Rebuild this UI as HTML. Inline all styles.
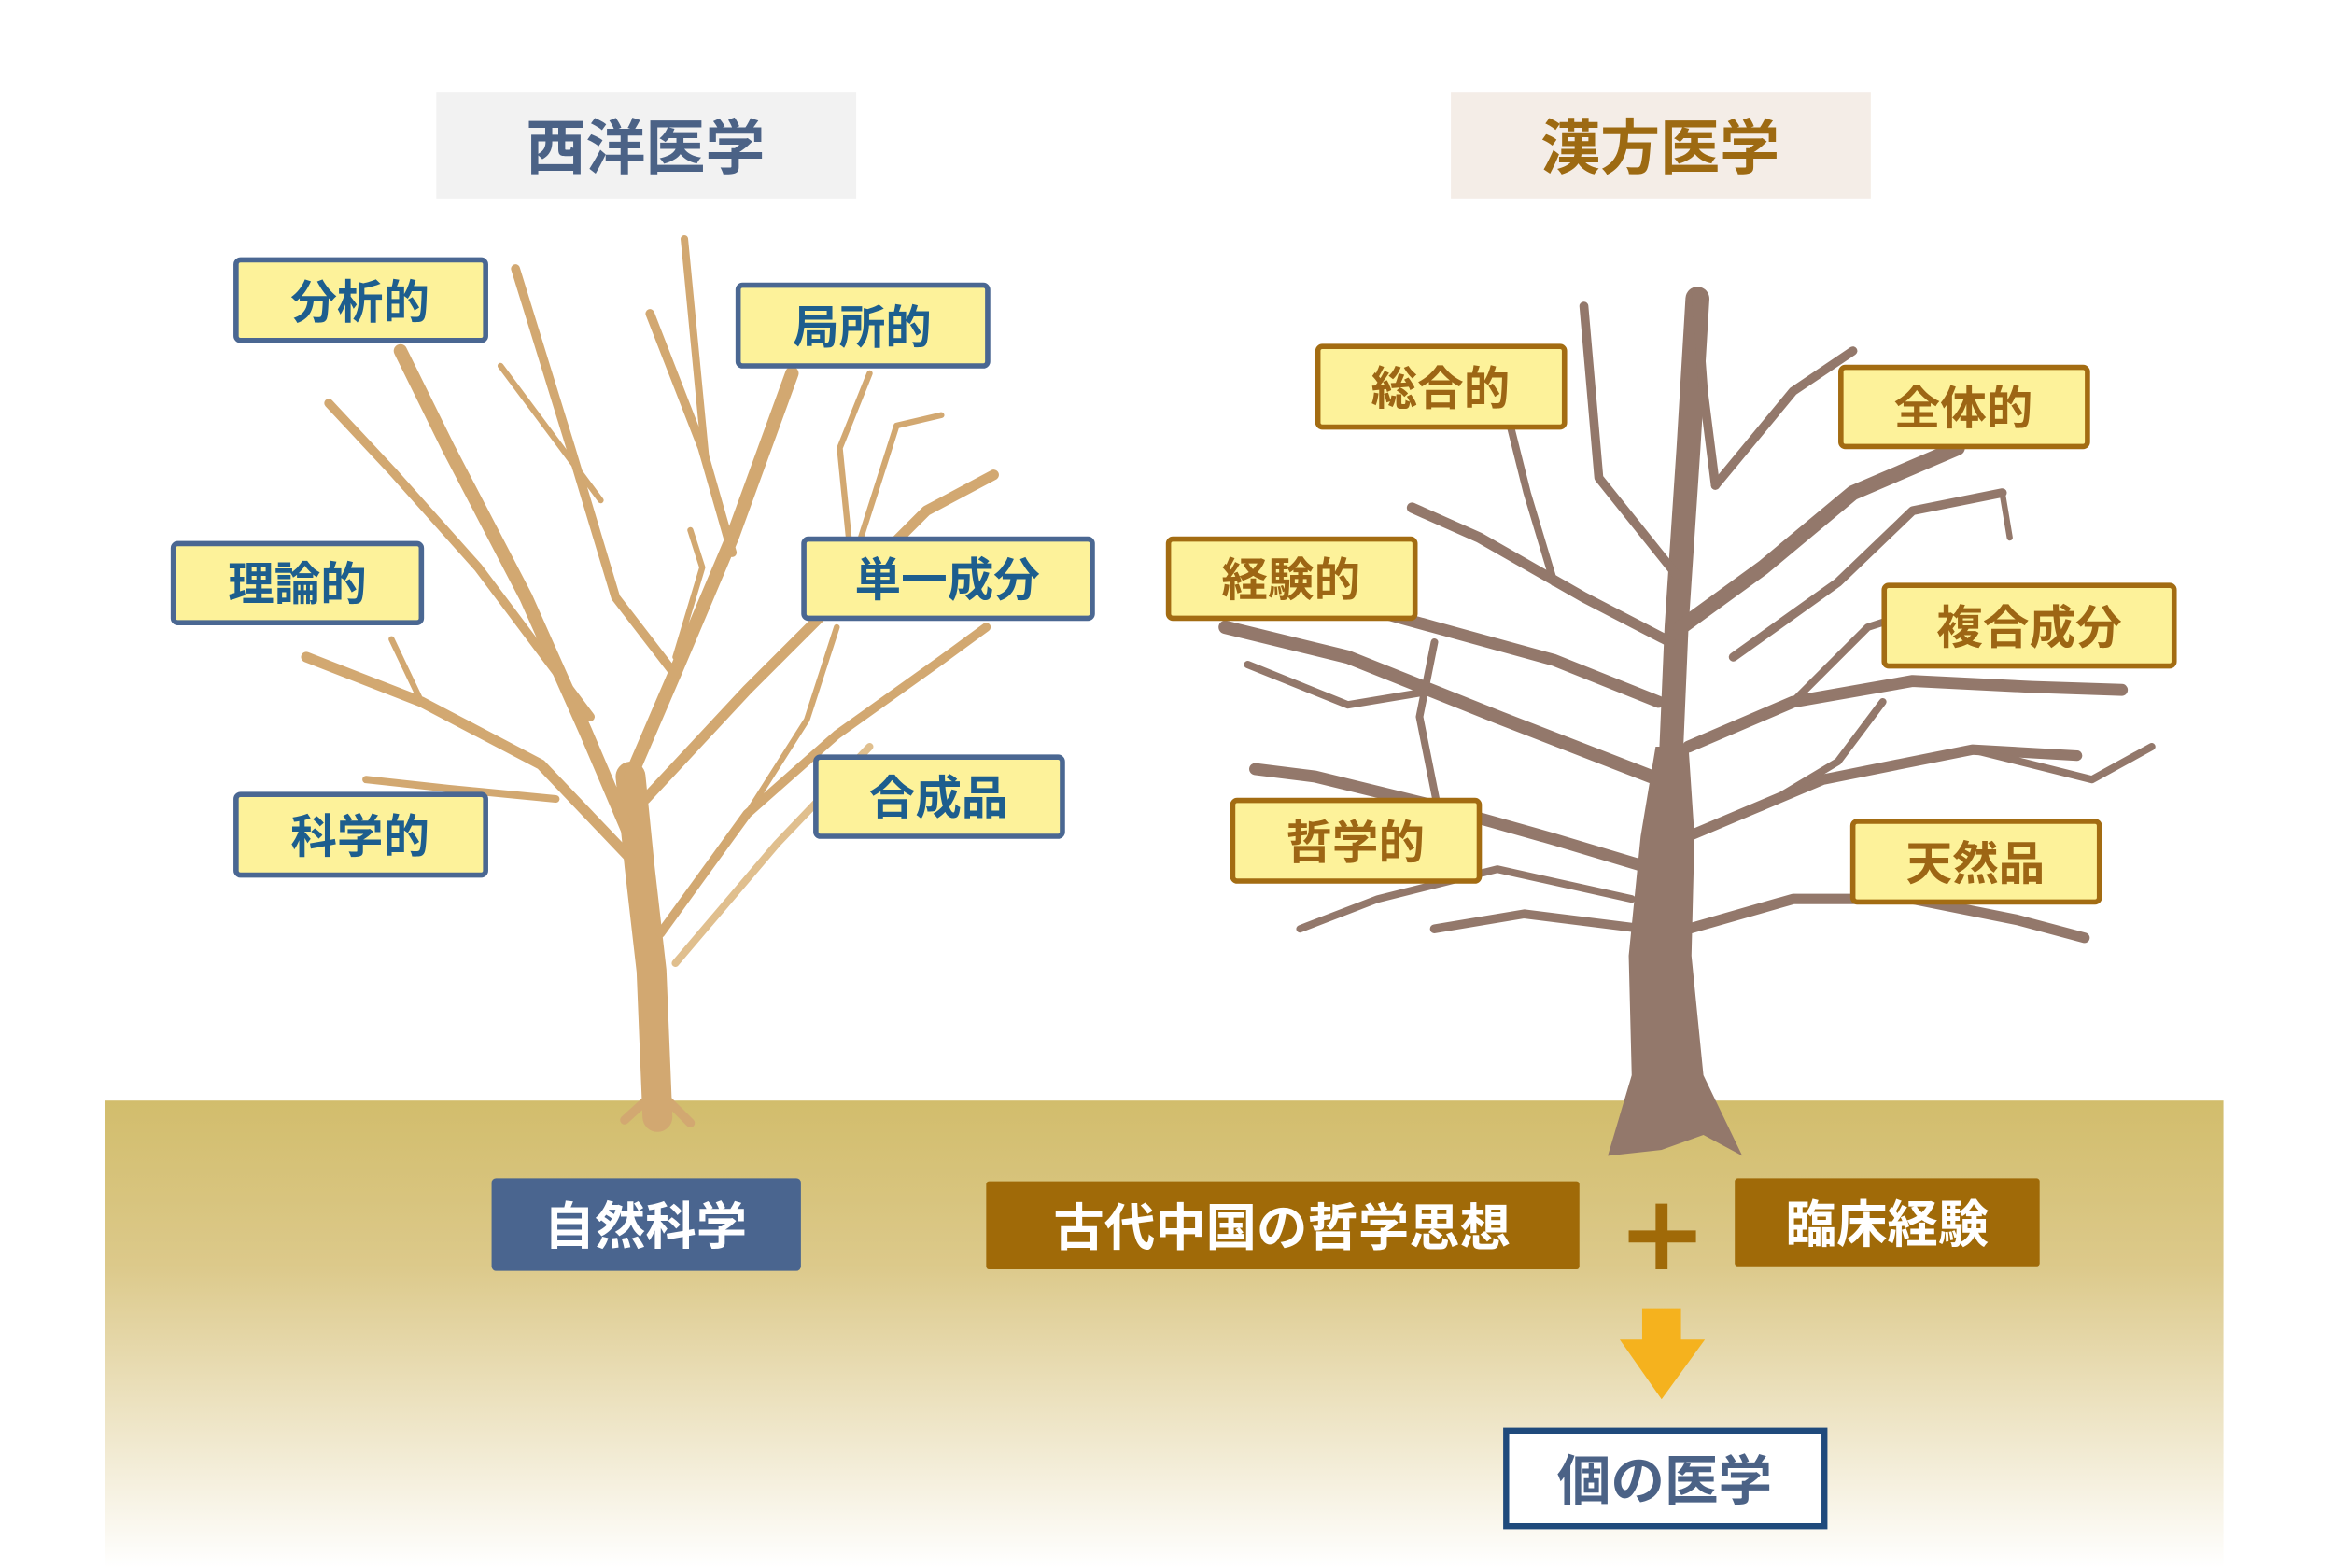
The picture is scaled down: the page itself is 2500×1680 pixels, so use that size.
<!DOCTYPE html>
<html><head><meta charset="utf-8"><style>
html,body{margin:0;padding:0;background:#fff;}
svg{display:block;}
text{font-family:"Liberation Sans","Noto Sans CJK JP",sans-serif;font-weight:bold;}
</style></head><body>
<svg width="2500" height="1680" viewBox="0 0 1562 1050" preserveAspectRatio="none" xmlns="http://www.w3.org/2000/svg">
<defs>
<linearGradient id="g" x1="0" y1="0" x2="0" y2="1">
<stop offset="0" stop-color="#d2bd6c"/>
<stop offset="0.35" stop-color="#dcc98a"/>
<stop offset="1" stop-color="#ffffff"/>
</linearGradient>
</defs>
<rect x="70" y="737" width="1418" height="313" fill="url(#g)"/>

<rect x="292" y="62" width="281" height="71" fill="#f2f2f2"/>
<text x="432" y="113" font-size="40" fill="#4b6286" text-anchor="middle">西洋医学</text>
<rect x="971" y="62" width="281" height="71" fill="#f4ede7"/>
<text x="1111" y="113" font-size="40" fill="#9d6a12" text-anchor="middle">漢方医学</text>

<g fill="none" stroke="#d2a871" stroke-linecap="round" stroke-linejoin="round">
<path d="M440,748 L436,650 L428,580 L422,520" stroke-width="20"/>
<path d="M426,570 L392,490 L352,400 L300,300 L268,235" stroke-width="9"/>
<path d="M395,480 L320,380 L262,315 L220,270" stroke-width="6"/>
<path d="M422,575 L362,512 L282,470 L205,440" stroke-width="7"/>
<path d="M372,535 L300,528 L245,522" stroke-width="5"/>
<path d="M282,470 L262,428" stroke-width="4"/>
<path d="M422,520 L452,450 L490,360 L530,250" stroke-width="9"/>
<path d="M490,370 L470,300 L435,210" stroke-width="6"/>
<path d="M472,305 L458,160" stroke-width="5"/>
<path d="M452,452 L412,400 L382,300 L345,180" stroke-width="6"/>
<path d="M402,335 L335,245" stroke-width="4"/>
<path d="M432,535 L500,462 L560,402 L620,342 L665,318" stroke-width="7"/>
<path d="M565,395 L600,285 L630,278" stroke-width="4"/>
<path d="M570,380 L562,300 L582,250" stroke-width="4"/>
<path d="M442,625 L500,545 L560,492 L630,442 L660,420" stroke-width="6"/>
<path d="M500,545 L540,482 L560,420" stroke-width="4"/>
<path d="M452,440 L470,380 L462,355" stroke-width="4"/>
<path d="M452,645 L520,565 L582,500" stroke-width="5" stroke="#e0bf8e"/>
<path d="M418,750 L440,730 L462,752" stroke-width="6"/>
</g>

<g fill="none" stroke="#93786b" stroke-linecap="round" stroke-linejoin="round">
<path d="M1116,560 L1122,420 L1130,300 L1136,200" stroke-width="16"/>
<path d="M1125,420 L1180,380 L1240,330 L1310,300" stroke-width="10"/>
<path d="M1148,325 L1200,262 L1240,235" stroke-width="6"/>
<path d="M1148,325 L1140,262 L1135,195" stroke-width="6"/>
<path d="M1122,385 L1070,320 L1060,205" stroke-width="6"/>
<path d="M1118,430 L1060,400 L990,360 L945,340" stroke-width="7"/>
<path d="M1040,390 L1022,330 L1002,250" stroke-width="5"/>
<path d="M1110,470 L1040,442 L960,420 L880,398" stroke-width="8"/>
<path d="M1105,520 L1002,480 L902,440 L820,420" stroke-width="9"/>
<path d="M962,462 L902,472 L835,445" stroke-width="5"/>
<path d="M1100,580 L1040,562 L962,540 L880,520 L840,515" stroke-width="8"/>
<path d="M962,540 L950,480 L960,430" stroke-width="5"/>
<path d="M1100,622 L1020,612 L960,622" stroke-width="6"/>
<path d="M1092,602 L1002,582 L922,602 L870,622" stroke-width="5"/>
<path d="M1130,500 L1200,470 L1280,456 L1360,460 L1420,462" stroke-width="8"/>
<path d="M1200,470 L1250,420 L1312,400" stroke-width="5"/>
<path d="M1130,560 L1220,522 L1320,502 L1390,506" stroke-width="7"/>
<path d="M1320,502 L1400,522 L1440,500" stroke-width="5"/>
<path d="M1130,622 L1200,602 L1280,602 L1350,616 L1395,628" stroke-width="7"/>
<path d="M1160,440 L1230,390 L1280,342 L1340,330" stroke-width="6"/>
<path d="M1128,560 L1180,540 L1230,510 L1260,470" stroke-width="5"/>
<path d="M1340,330 L1345,360" stroke-width="4"/>
</g>
<path d="M1076,774 L1092,720 L1090,640 L1098,560 L1108,500 L1130,500 L1134,560 L1132,640 L1140,720 L1166,774 L1140,760 L1112,770 Z" fill="#93786b"/>

<g fill="#fdf29a" stroke="#4a6792" stroke-width="3.5">
<rect x="158" y="174" width="167" height="54" rx="3"/>
<rect x="494" y="191" width="167" height="54" rx="3"/>
<rect x="116" y="364" width="166" height="53" rx="3"/>
<rect x="538" y="361" width="193" height="53" rx="3"/>
<rect x="546" y="507" width="165" height="53" rx="3"/>
<rect x="158" y="532" width="167" height="54" rx="3"/>
</g>
<g fill="#1d5e8e" font-size="31" text-anchor="middle">
<text x="241" y="213">分析的</text>
<text x="577" y="230">局所的</text>
<text x="199" y="402">理論的</text>
<text x="634" y="399">単一成分</text>
<text x="628" y="545">合成品</text>
<text x="241" y="571">科学的</text>
</g>

<g fill="#fdf29a" stroke="#a36c12" stroke-width="3.5">
<rect x="882" y="232" width="165" height="54" rx="3"/>
<rect x="1232" y="246" width="165" height="53" rx="3"/>
<rect x="782" y="361" width="165" height="53" rx="3"/>
<rect x="1261" y="392" width="194" height="54" rx="3"/>
<rect x="825" y="536" width="165" height="54" rx="3"/>
<rect x="1240" y="550" width="165" height="54" rx="3"/>
</g>
<g fill="#9d6614" font-size="31" text-anchor="middle">
<text x="964" y="271">総合的</text>
<text x="1314" y="284">全体的</text>
<text x="864" y="399">経験的</text>
<text x="1358" y="431">複合成分</text>
<text x="907" y="575">哲学的</text>
<text x="1322" y="589">天然品</text>
</g>

<rect x="329" y="789" width="207" height="62" rx="3" fill="#4a658f"/>
<text x="432" y="833" font-size="34" fill="#fff" text-anchor="middle">自然科学</text>
<rect x="660" y="791" width="397" height="59" rx="2" fill="#a06a08"/>
<text x="858" y="834" font-size="34" fill="#fff" text-anchor="middle">古代中国の哲学思想</text>
<rect x="1161" y="789" width="204" height="59" rx="2" fill="#a06a08"/>
<text x="1263" y="832" font-size="34" fill="#fff" text-anchor="middle">臨床経験</text>
<path d="M1112,806 V850 M1090,828 H1135" stroke="#a06a08" stroke-width="8"/>
<polygon points="1099,876 1125,876 1125,897 1141,897 1112,937 1084,897 1099,897" fill="#f5b21e"/>
<rect x="1008" y="958" width="213" height="64" fill="#fff" stroke="#1f4a7c" stroke-width="4"/>
<text x="1114" y="1004" font-size="36" fill="#4b6286" text-anchor="middle">個の医学</text>
</svg>
</body></html>
